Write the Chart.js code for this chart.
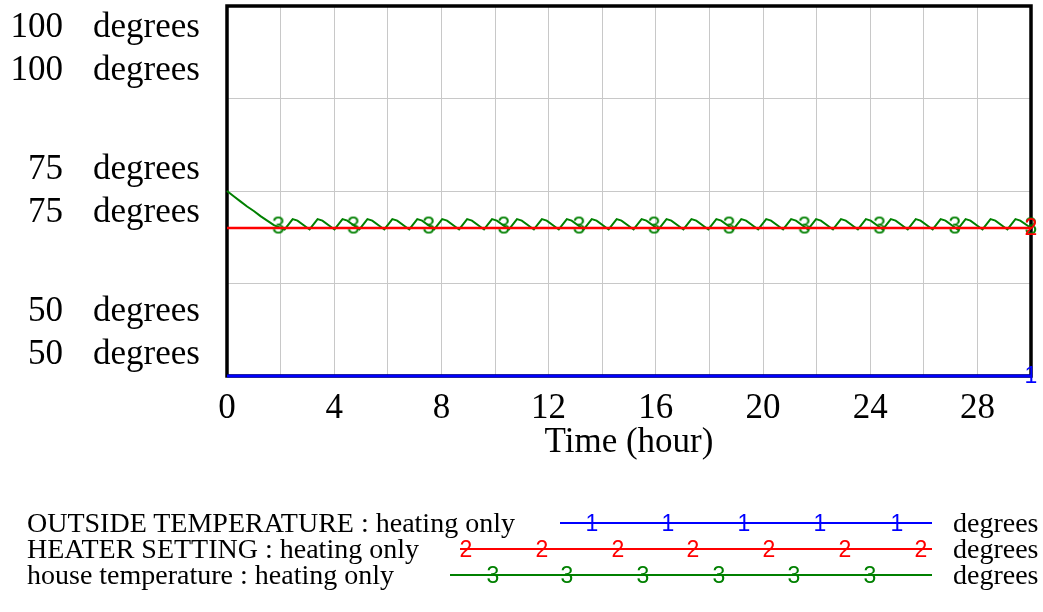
<!DOCTYPE html>
<html>
<head>
<meta charset="utf-8">
<script src="https://cdn.jsdelivr.net/npm/chart.js@4.4.0/dist/chart.umd.min.js"></script>
<style>
  html, body { margin:0; padding:0; background:#fff; }
  #wrap { position:relative; width:1043px; height:612px; font-family:"Liberation Serif","Times New Roman",serif; color:#000; }
  #wrap canvas { position:absolute; left:0; top:0; }
  .lg { position:absolute; left:0; width:1043px; height:26px; font-size:28px; line-height:26px; }
  .lg .name { position:absolute; left:27px; top:0; white-space:nowrap; }
  .lg .unit { position:absolute; left:953px; top:0; }
  .lg .line { position:absolute; top:12px; height:2px; }
  .lg .mk { position:absolute; top:1px; font-family:"Liberation Sans",Arial,sans-serif; font-size:23px; line-height:24px; transform:translateX(-50%); }
</style>
</head>
<body>
<div id="wrap">
  <canvas id="mycanvas" width="1043" height="612"></canvas>
</div>
<script>
// --- data ---
var timeTickLabels = [0, 4, 8, 12, 16, 20, 24, 28];
var yLabelValues = [100, 75, 50];
var unit = 'degrees';
var seriesNames = ['OUTSIDE TEMPERATURE : heating only', 'HEATER SETTING : heating only', 'house temperature : heating only'];
var seriesColors = ['#0000ff', '#ff0000', '#008000'];
var seriesMarks = ['1', '2', '3'];

var outsideTime = [0, 30];
var outsideTemp = [50, 50];

var heaterTime = [0, 30];
var heaterTemp = [70, 70];

var houseTime = [0, 0.25, 0.5, 0.75, 1.0, 1.25, 1.5, 1.75, 2.0,
	2.15, 2.45, 2.63, 3.08, 3.38, 3.56, 4.01, 4.31, 4.49,
	4.94, 5.24, 5.42, 5.87, 6.17, 6.35, 6.80, 7.10, 7.28,
	7.73, 8.03, 8.21, 8.66, 8.96, 9.14, 9.59, 9.89, 10.07,
	10.52, 10.82, 11.00, 11.45, 11.75, 11.93, 12.38, 12.68, 12.86,
	13.31, 13.61, 13.79, 14.24, 14.54, 14.72, 15.17, 15.47, 15.65,
	16.10, 16.40, 16.58, 17.03, 17.33, 17.51, 17.96, 18.26, 18.44,
	18.89, 19.19, 19.37, 19.82, 20.12, 20.30, 20.75, 21.05, 21.23,
	21.68, 21.98, 22.16, 22.61, 22.91, 23.09, 23.54, 23.84, 24.02,
	24.47, 24.77, 24.95, 25.40, 25.70, 25.88, 26.33, 26.63, 26.81,
	27.26, 27.56, 27.74, 28.19, 28.49, 28.67, 29.12, 29.42, 29.60,
	30.0];
var houseTemp = [75, 74.3, 73.6, 72.9, 72.3, 71.6, 71.0, 70.4, 70.0,
	69.8, 71.2, 71.0, 69.8, 71.2, 71.0, 69.8, 71.2, 71.0,
	69.8, 71.2, 71.0, 69.8, 71.2, 71.0, 69.8, 71.2, 71.0,
	69.8, 71.2, 71.0, 69.8, 71.2, 71.0, 69.8, 71.2, 71.0,
	69.8, 71.2, 71.0, 69.8, 71.2, 71.0, 69.8, 71.2, 71.0,
	69.8, 71.2, 71.0, 69.8, 71.2, 71.0, 69.8, 71.2, 71.0,
	69.8, 71.2, 71.0, 69.8, 71.2, 71.0, 69.8, 71.2, 71.0,
	69.8, 71.2, 71.0, 69.8, 71.2, 71.0, 69.8, 71.2, 71.0,
	69.8, 71.2, 71.0, 69.8, 71.2, 71.0, 69.8, 71.2, 71.0,
	69.8, 71.2, 71.0, 69.8, 71.2, 71.0, 69.8, 71.2, 71.0,
	69.8, 71.2, 71.0, 69.8, 71.2, 71.0, 69.8, 71.2, 71.0,
	70.0];

// where the "3" marks sit on the house temperature curve
var houseMarkTime = [1.92, 4.72, 7.53, 10.33, 13.14, 15.94, 18.74, 21.55, 24.35, 27.16, 30];
var houseMarkTemp = [70.2, 70.2, 70.2, 70.2, 70.2, 70.2, 70.2, 70.2, 70.2, 70.2, 70.1];

// legend sample lines (layout only)
var legendTop = [510, 536, 562];
var legendLine = [[560, 932], [460, 932], [450, 932]];
var legendMarkAt = [[592, 668, 744, 820, 897], [466, 542, 618, 693, 769, 845, 921], [493, 567, 643, 719, 794, 870]];

function pts(xs, ys) {
	var out = [];
	for (var i in xs) {
		out.push({x: xs[i], y: ys[i]});
	}
	return out;
}

function glyph(ch, color) {
	var c = document.createElement('canvas');
	c.width = 18; c.height = 26;
	var g = c.getContext('2d');
	g.font = '23px "Liberation Sans", Arial, sans-serif';
	g.fillStyle = color;
	g.textAlign = 'center';
	g.textBaseline = 'middle';
	g.fillText(ch, 9, 14);
	return c;
}

function lastOnly(n) {
	return function(ctx) { return ctx.dataIndex === n - 1 ? 8 : 0; };
}

// frame round the plot, under the lines
var framePlugin = {
	id: 'frame',
	beforeDatasetsDraw: function(chart) {
		var a = chart.chartArea, ctx = chart.ctx;
		ctx.save();
		ctx.strokeStyle = '#000';
		ctx.lineWidth = 3.5;
		ctx.strokeRect(a.left, a.top, a.right - a.left, a.bottom - a.top);
		ctx.restore();
	}
};

// Vensim style stacked y labels (two copies per value)
var yLabelPlugin = {
	id: 'yLabels',
	afterDraw: function(chart) {
		var ctx = chart.ctx, a = chart.chartArea, y = chart.scales.y;
		ctx.save();
		ctx.font = '35px "Liberation Serif", "Times New Roman", serif';
		ctx.fillStyle = '#000';
		ctx.textBaseline = 'middle';
		yLabelValues.forEach(function(v, i) {
			var py = y.getPixelForValue(v);
			var shift = i === 0 ? 43 : (i === yLabelValues.length - 1 ? -43 : 0);
			[-21.5, 21.5].forEach(function(d) {
				ctx.textAlign = 'right';
				ctx.fillText(String(v), a.left - 164, py + d + shift);
				ctx.textAlign = 'left';
				ctx.fillText(unit, a.left - 134, py + d + shift);
			});
		});
		ctx.restore();
	}
};

var chartdata = {
	datasets: [
		{
			label: seriesNames[1],
			data: pts(heaterTime, heaterTemp),
			borderColor: seriesColors[1],
			borderWidth: 2.5,
			pointStyle: glyph(seriesMarks[1], seriesColors[1]),
			pointRadius: lastOnly(heaterTime.length),
			clip: false,
			order: 0
		},
		{
			label: 'marks',
			data: pts(houseMarkTime, houseMarkTemp),
			showLine: false,
			pointStyle: glyph(seriesMarks[2], seriesColors[2]),
			pointRadius: 8,
			clip: false,
			order: 1
		},
		{
			label: seriesNames[0],
			data: pts(outsideTime, outsideTemp),
			borderColor: seriesColors[0],
			borderWidth: 3,
			pointStyle: glyph(seriesMarks[0], seriesColors[0]),
			pointRadius: lastOnly(outsideTime.length),
			clip: false,
			order: 2
		},
		{
			label: seriesNames[2],
			data: pts(houseTime, houseTemp),
			borderColor: seriesColors[2],
			borderWidth: 2,
			pointRadius: 0,
			tension: 0,
			clip: false,
			order: 3
		}
	]
};

var ctx = document.getElementById('mycanvas');

var lineGraph = new Chart(ctx, {
	type: 'line',
	data: chartdata,
	options: {
		responsive: false,
		animation: false,
		devicePixelRatio: 1,
		layout: { autoPadding: false, padding: { left: 227, right: 9, top: 6, bottom: 136 } },
		plugins: { legend: { display: false }, tooltip: { enabled: false } },
		scales: {
			x: {
				type: 'linear',
				min: 0,
				max: 30,
				afterFit: function(scale) { scale.height = 100; },
				border: { display: false },
				grid: { color: '#c8c8c8', lineWidth: 1, drawTicks: false },
				ticks: {
					stepSize: 2,
					autoSkip: false,
					maxRotation: 0,
					padding: 12,
					color: '#000',
					font: { family: '"Liberation Serif", "Times New Roman", serif', size: 35 },
					callback: function(v) { return timeTickLabels.indexOf(v) >= 0 ? String(v) : ''; }
				},
				title: {
					display: true,
					text: 'Time (hour)',
					color: '#000',
					font: { family: '"Liberation Serif", "Times New Roman", serif', size: 35 },
					padding: { top: 0, bottom: 12 }
				}
			},
			y: {
				min: 50,
				max: 100,
				border: { display: false },
				grid: { color: '#c8c8c8', lineWidth: 1, drawTicks: false },
				ticks: { stepSize: 12.5, display: false }
			}
		}
	},
	plugins: [framePlugin, yLabelPlugin]
});

// legend under the chart, as plain text
var wrap = document.getElementById('wrap');
for (var i in seriesNames) {
	var row = document.createElement('div');
	row.className = 'lg';
	row.style.top = legendTop[i] + 'px';
	var html = '<span class="name">' + seriesNames[i] + '</span>';
	html += '<div class="line" style="left:' + legendLine[i][0] + 'px;width:' + (legendLine[i][1] - legendLine[i][0]) + 'px;background:' + seriesColors[i] + '"></div>';
	for (var j in legendMarkAt[i]) {
		html += '<span class="mk" style="left:' + legendMarkAt[i][j] + 'px;color:' + seriesColors[i] + '">' + seriesMarks[i] + '</span>';
	}
	html += '<span class="unit">' + unit + '</span>';
	row.innerHTML = html;
	wrap.appendChild(row);
}
</script>
</body>
</html>
